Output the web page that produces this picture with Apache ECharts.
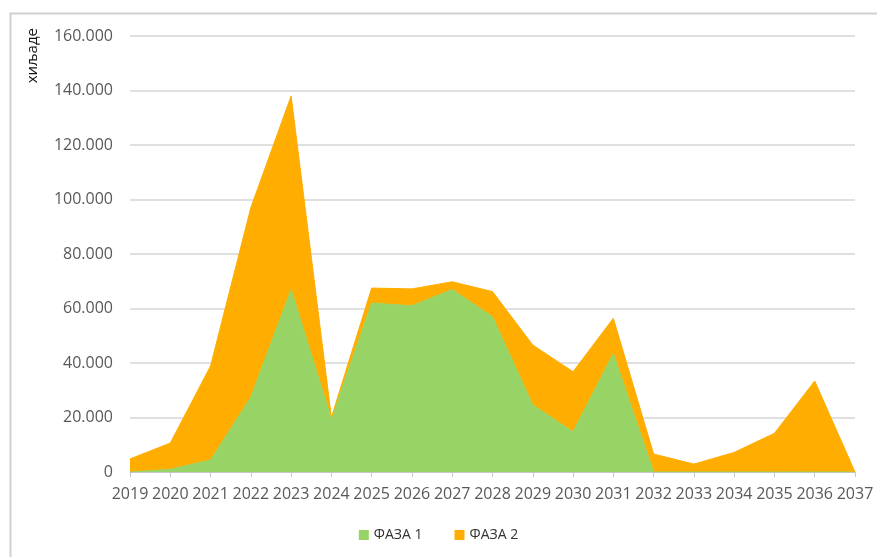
<!DOCTYPE html>
<html>
<head>
<meta charset="utf-8">
<script src="https://cdn.jsdelivr.net/npm/echarts@6/dist/echarts.min.js"></script>
<style>
  html, body { margin: 0; padding: 0; background: #fff; }
  #chart { width: 877px; height: 557px; }
</style>
</head>
<body>
<div id="chart"></div>
<script>
// Years on the horizontal axis
const years = ['2019','2020','2021','2022','2023','2024','2025','2026','2027','2028',
               '2029','2030','2031','2032','2033','2034','2035','2036','2037'];
// Phase 1 (bottom layer), thousands
const faza1 = [0, 1000, 4400, 27500, 67000, 19500, 62000, 61000, 67000, 57000,
               24600, 14800, 43500, 0, 0, 0, 0, 0, 0];
// Phase 2 (stacked on top), thousands
const faza2 = [4800, 9600, 34500, 69500, 71000, 500, 5500, 6200, 2800, 9200,
               22000, 22000, 12900, 6600, 2900, 7200, 14200, 33400, 0];
const seriesNames = ['ФАЗА 1', 'ФАЗА 2'];
const yTicks = { min: 0, max: 160000, interval: 20000 };

const GREEN = '#98d465';
const ORANGE = '#ffad00';
const FONT = 'Open Sans, sans-serif';

function fmt(v) {
  return String(v).replace(/\B(?=(\d{3})+(?!\d))/g, '.');
}

const chart = echarts.init(document.getElementById('chart'), null, { renderer: 'canvas' });
chart.setOption({
  backgroundColor: '#fff',
  animation: false,
  textStyle: { fontFamily: FONT },
  grid: { left: 130, right: 22, top: 36, bottom: 85 },
  graphic: [
    {
      type: 'polyline',
      shape: { points: [[10.5, 557], [10.5, 13.5], [877, 13.5]] },
      style: { stroke: '#d0d0d0', lineWidth: 2, fill: null }
    },
    {
      type: 'text',
      left: 25, top: 28,
      rotation: Math.PI / 2,
      style: { text: 'хиљаде', fontSize: 15, fill: '#111', fontFamily: FONT }
    }
  ],
  legend: {
    bottom: 10,
    left: 'center',
    itemWidth: 10, itemHeight: 10, itemGap: 32,
    icon: 'rect',
    textStyle: { fontSize: 14, color: '#333', fontFamily: FONT },
    data: seriesNames
  },
  xAxis: {
    type: 'category',
    data: years,
    boundaryGap: false,
    axisLine: { lineStyle: { color: '#c8c8c8', width: 1 } },
    axisTick: { show: true, alignWithLabel: true, length: 5, lineStyle: { color: '#c8c8c8' } },
    axisLabel: { color: '#595959', fontSize: 16, margin: 14, interval: 0, fontFamily: FONT },
    splitLine: { show: false }
  },
  yAxis: {
    type: 'value',
    min: yTicks.min, max: yTicks.max, interval: yTicks.interval,
    axisLine: { show: false },
    axisTick: { show: false },
    axisLabel: { color: '#595959', fontSize: 16, margin: 17, formatter: fmt, fontFamily: FONT },
    splitLine: { lineStyle: { color: '#d6d6d6', width: 1.5 } }
  },
  series: [
    {
      name: seriesNames[0],
      type: 'line',
      stack: 'total',
      data: faza1,
      symbol: 'none',
      lineStyle: { color: GREEN, width: 1 },
      itemStyle: { color: GREEN },
      areaStyle: { color: GREEN, opacity: 1 }
    },
    {
      name: seriesNames[1],
      type: 'line',
      stack: 'total',
      data: faza2,
      symbol: 'none',
      lineStyle: { color: ORANGE, width: 1 },
      itemStyle: { color: ORANGE },
      areaStyle: { color: ORANGE, opacity: 1 }
    }
  ]
});
</script>
</body>
</html>
